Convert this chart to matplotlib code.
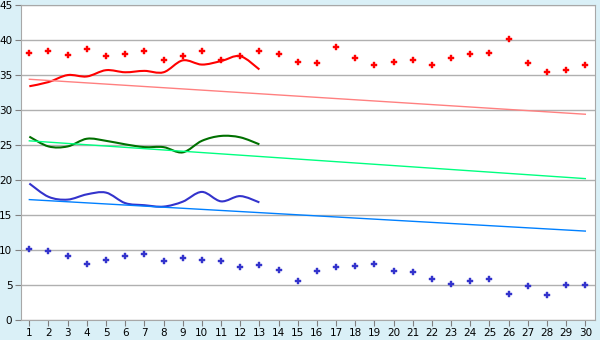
import matplotlib
matplotlib.use("Agg")
from matplotlib import pyplot as plt
from matplotlib.path import Path
from matplotlib.patches import PathPatch
import numpy as np

days = list(range(1, 31))
days_so_far = list(range(1, 14))

# record highs / lows per day
record_max = [38.2, 38.4, 37.8, 38.7, 37.7, 37.95, 38.4, 37.1, 37.7, 38.4,
              37.1, 37.7, 38.4, 37.95, 36.8, 36.7, 38.95, 37.4, 36.4, 36.9,
              37.2, 36.5, 37.5, 37.95, 38.1, 40.2, 36.7, 35.4, 35.7, 36.4]
record_min = [10.2, 9.8, 9.1, 7.95, 8.5, 9.1, 9.4, 8.4, 8.8, 8.6,
              8.4, 7.5, 7.8, 7.1, 5.5, 7.0, 7.5, 7.7, 7.95, 7.0,
              6.8, 5.8, 5.1, 5.5, 5.8, 3.7, 4.8, 3.5, 4.95, 4.95]

# observed this month
obs_max = [33.4, 34.0, 35.0, 34.8, 35.7, 35.4, 35.6, 35.4, 37.1, 36.5, 37.0, 37.7, 35.8]
obs_mean = [26.2, 24.8, 24.8, 25.9, 25.6, 25.1, 24.7, 24.7, 23.95, 25.6, 26.3, 26.1, 25.1]
obs_min = [19.5, 17.6, 17.2, 17.95, 18.2, 16.7, 16.4, 16.2, 16.9, 18.3, 16.95, 17.7, 16.8]

# normals (first and last day)
normal_days = [1, 30]
normal_max = [34.4, 29.4]
normal_mean = [25.6, 20.2]
normal_min = [17.2, 12.7]


def smooth_path(x, y):
    # cubic bezier through the points (Catmull-Rom style control points)
    x = np.asarray(x, float)
    y = np.asarray(y, float)
    verts = [(x[0], y[0])]
    codes = [Path.MOVETO]
    n = len(x)
    t = 1 / 6
    for i in range(n - 1):
        p0 = i - 1 if i > 0 else i
        p3 = i + 2 if i + 2 < n else i + 1
        c1 = (x[i] + (x[i + 1] - x[p0]) * t, y[i] + (y[i + 1] - y[p0]) * t)
        c2 = (x[i + 1] - (x[p3] - x[i]) * t, y[i + 1] - (y[p3] - y[i]) * t)
        verts += [c1, c2, (x[i + 1], y[i + 1])]
        codes += [Path.CURVE4] * 3
    return Path(verts, codes)


fig = plt.figure(figsize=(6, 3.4), dpi=100)
fig.patch.set_facecolor("#DAF0F7")
ax = fig.add_axes([0.0345, 0.059, 0.957, 0.926])
ax.set_facecolor("white")

ax.plot(normal_days, normal_max, color="#FF8080", lw=1)
ax.plot(normal_days, normal_mean, color="#00FF80", lw=1)
ax.plot(normal_days, normal_min, color="#0080FF", lw=1)

for vals, col in [(obs_max, "#FF0000"), (obs_mean, "#007000"), (obs_min, "#3333CC")]:
    ax.add_patch(PathPatch(smooth_path(days_so_far, vals), fill=False,
                           edgecolor=col, lw=1.5))

ax.plot(days, record_max, ls="none", marker="P", ms=5, color="#FF0000",
        markeredgewidth=0.3)
ax.plot(days, record_min, ls="none", marker="P", ms=5, color="#3333CC",
        markeredgewidth=0.3)

ax.set_xlim(0.55, 30.5)
ax.set_ylim(0, 45)
ax.set_xticks(days)
ax.set_yticks(range(0, 46, 5))
ax.grid(axis="y", color="#B0B0B0", lw=1)
ax.set_axisbelow(True)
for s in ax.spines.values():
    s.set_color("#A8A8A8")
ax.tick_params(colors="#808080", labelcolor="black", labelsize=7.5, length=4,
               pad=2)

fig.savefig("out.png", dpi=100, facecolor=fig.get_facecolor())
